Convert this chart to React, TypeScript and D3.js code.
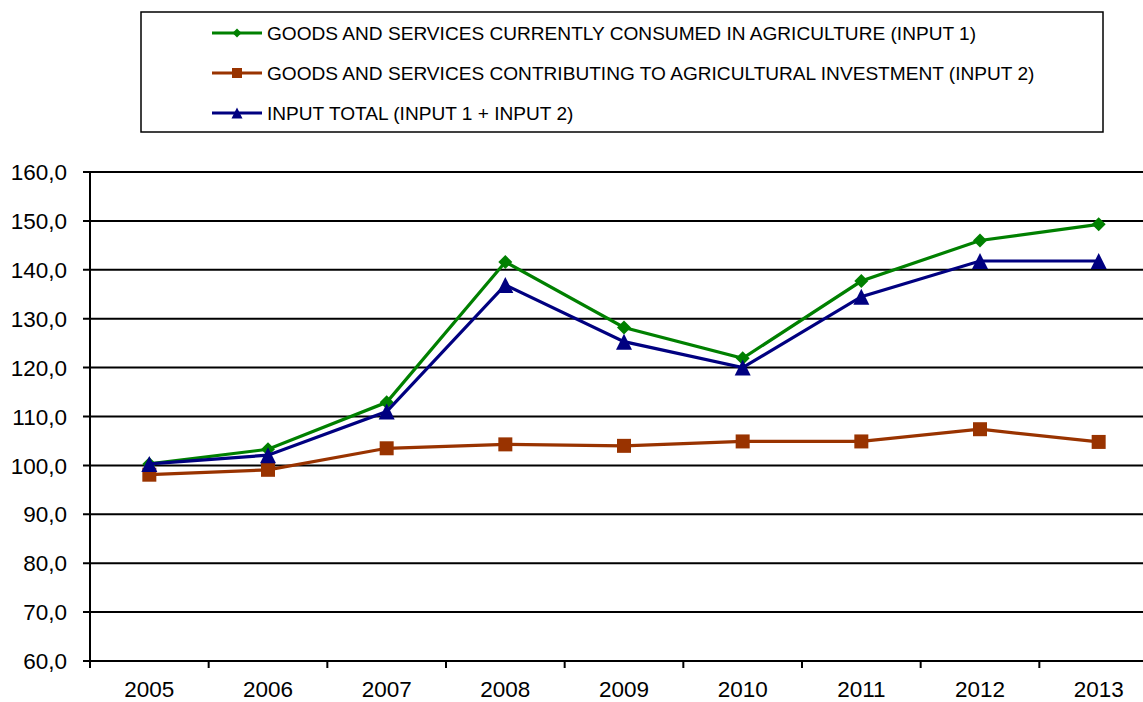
import React, { useRef, useEffect } from 'react';
import * as d3 from 'd3';

const years = ['2005', '2006', '2007', '2008', '2009', '2010', '2011', '2012', '2013'];
const input1 = [100.3, 103.3, 112.9, 141.6, 128.2, 121.9, 137.7, 146.0, 149.3];
const input2 = [98.1, 99.1, 103.5, 104.3, 104.0, 104.9, 104.9, 107.4, 104.8];
const inputTotal = [100.3, 102.1, 111.0, 136.9, 125.3, 120.0, 134.5, 141.8, 141.8];
const yTicks = [60, 70, 80, 90, 100, 110, 120, 130, 140, 150, 160];

const seriesNames = [
    'GOODS AND SERVICES CURRENTLY CONSUMED IN AGRICULTURE (INPUT 1)',
    'GOODS AND SERVICES CONTRIBUTING TO AGRICULTURAL INVESTMENT (INPUT 2)',
    'INPUT TOTAL (INPUT 1 + INPUT 2)',
];

const FONT = 'Arial, "Liberation Sans", sans-serif';

// marker path centred at 0,0
const markerPath = (kind: string, s: number) => {
    if (kind === 'diamond') return `M0,${-s}L${s},0L0,${s}L${-s},0Z`;
    if (kind === 'square') return `M${-s},${-s}H${s}V${s}H${-s}Z`;
    return `M0,${-s}L${s},${s}L${-s},${s}Z`;
};

const App: React.FC = () => {
    const svgRef = useRef<SVGSVGElement>(null);
    const width = 1143;
    const height = 702;

    useEffect(() => {
        if (!svgRef.current) return;
        const svg = d3.select(svgRef.current);
        svg.selectAll('*').remove();

        const x = d3.scaleBand<string>().domain(years).range([90, 1158]).padding(0);
        const y = d3.scaleLinear().domain([60, 160]).range([661, 172]);

        // gridlines
        svg.append('g')
            .selectAll('line')
            .data(yTicks)
            .join('line')
            .attr('x1', 83)
            .attr('x2', width)
            .attr('y1', d => y(d))
            .attr('y2', d => y(d))
            .attr('stroke', '#000')
            .attr('stroke-width', 2);

        // y labels
        svg.append('g')
            .selectAll('text')
            .data(yTicks)
            .join('text')
            .attr('x', 67)
            .attr('y', d => y(d))
            .attr('dy', '0.36em')
            .attr('text-anchor', 'end')
            .attr('font-family', FONT)
            .attr('font-size', 22.5)
            .attr('fill', '#000')
            .text(d => d.toFixed(1).replace('.', ','));

        // axes
        svg.append('line')
            .attr('x1', 90).attr('x2', 90)
            .attr('y1', 172).attr('y2', 668)
            .attr('stroke', '#000').attr('stroke-width', 2);
        svg.append('line')
            .attr('x1', 90).attr('x2', width)
            .attr('y1', 661).attr('y2', 661)
            .attr('stroke', '#000').attr('stroke-width', 2);

        // x ticks at category boundaries
        svg.append('g')
            .selectAll('line')
            .data(years.slice(1))
            .join('line')
            .attr('x1', d => x(d)!)
            .attr('x2', d => x(d)!)
            .attr('y1', 661)
            .attr('y2', 668)
            .attr('stroke', '#000')
            .attr('stroke-width', 2);

        svg.append('g')
            .selectAll('text')
            .data(years)
            .join('text')
            .attr('x', d => x(d)! + x.bandwidth() / 2)
            .attr('y', 697)
            .attr('text-anchor', 'middle')
            .attr('font-family', FONT)
            .attr('font-size', 22.5)
            .attr('fill', '#000')
            .text(d => d);

        const series = [
            { values: input1, color: '#008000', marker: 'diamond', size: 7, legendSize: 4.5 },
            { values: input2, color: '#993300', marker: 'square', size: 7, legendSize: 5 },
            { values: inputTotal, color: '#000080', marker: 'triangle', size: 8, legendSize: 5.5 },
        ];

        const line = d3.line<number>()
            .x((_, i) => x(years[i])! + x.bandwidth() / 2)
            .y(d => y(d));

        series.forEach(s => {
            const g = svg.append('g');
            g.append('path')
                .attr('d', line(s.values))
                .attr('fill', 'none')
                .attr('stroke', s.color)
                .attr('stroke-width', 3.2);
            g.selectAll('path.m')
                .data(s.values)
                .join('path')
                .attr('class', 'm')
                .attr('transform', (d, i) => `translate(${x(years[i])! + x.bandwidth() / 2},${y(d)})`)
                .attr('d', markerPath(s.marker, s.size))
                .attr('fill', s.color);
        });

        // legend
        const lg = svg.append('g');
        lg.append('rect')
            .attr('x', 141).attr('y', 12)
            .attr('width', 962).attr('height', 120)
            .attr('fill', '#fff')
            .attr('stroke', '#000')
            .attr('stroke-width', 1.5);
        const rowY = [33, 73, 113];
        series.forEach((s, i) => {
            lg.append('line')
                .attr('x1', 212).attr('x2', 262)
                .attr('y1', rowY[i]).attr('y2', rowY[i])
                .attr('stroke', s.color).attr('stroke-width', 3.2);
            lg.append('path')
                .attr('transform', `translate(237,${rowY[i]})`)
                .attr('d', markerPath(s.marker, s.legendSize))
                .attr('fill', s.color);
            lg.append('text')
                .attr('x', 267)
                .attr('y', rowY[i])
                .attr('dy', '0.36em')
                .attr('font-family', FONT)
                .attr('font-size', 19.1)
                .attr('fill', '#000')
                .text(seriesNames[i]);
        });
    }, []);

    return (
        <svg
            ref={svgRef}
            width={width}
            height={height}
            style={{ position: 'absolute', left: 0, top: 0, background: '#fff' }}
        />
    );
};

export default App;
